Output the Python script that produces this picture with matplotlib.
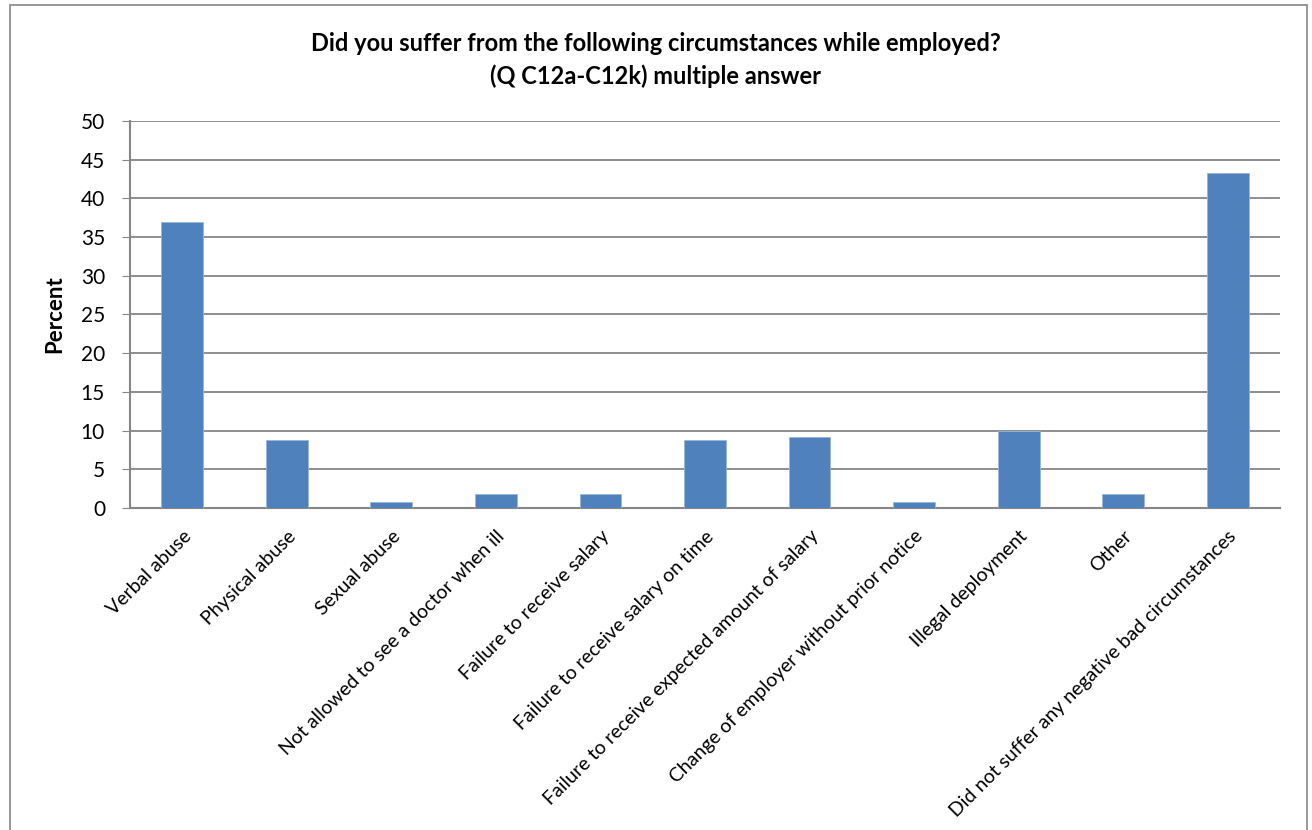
import matplotlib.pyplot as plt
import matplotlib.patches as patches

categories = ["Verbal abuse", "Physical abuse", "Sexual abuse",
              "Not allowed to see a doctor when ill", "Failure to receive salary",
              "Failure to receive salary on time", "Failure to receive expected amount of salary",
              "Change of employer without prior notice", "Illegal deployment", "Other",
              "Did not suffer any negative bad circumstances"]
percent = [37.0, 8.8, 0.8, 1.8, 1.8, 8.8, 9.2, 0.8, 10.0, 1.8, 43.3]
yticks = [0, 5, 10, 15, 20, 25, 30, 35, 40, 45, 50]

plt.rcParams['font.family'] = ['Lato', 'DejaVu Sans']

fig = plt.figure(figsize=(13.12, 8.3), dpi=100)
ax = fig.add_axes([130/1312, 1-508/830, (1280-130)/1312, (508-121)/830])

# chart area border
fig.patches.append(patches.Rectangle((10/1312, -0.01), (1307-10)/1312, 1-5/830+0.01,
                                     transform=fig.transFigure, fill=False,
                                     edgecolor="#868686", linewidth=1.2))

x = range(len(categories))
ax.bar(x, percent, width=0.4, color="#4F81BD", edgecolor="#9BB5DA", linewidth=0.6, zorder=3)

ax.set_xlim(-0.5, len(categories)-0.5)
ax.set_ylim(0, 50)
ax.set_yticks(yticks)
ax.tick_params(axis='y', labelsize=15, length=6, color="#868686", pad=12)
ax.yaxis.grid(True, color="#868686", linewidth=1.3, zorder=0)
ax.set_axisbelow(True)

ax.set_xticks(list(x))
ax.set_xticklabels(categories, rotation=45, ha="right", rotation_mode="anchor", fontsize=14)
ax.tick_params(axis='x', length=0, pad=14)

for s in ["top", "right"]:
    ax.spines[s].set_visible(False)
for s in ["left", "bottom"]:
    ax.spines[s].set_color("#868686")
    ax.spines[s].set_linewidth(1.5)

ax.set_ylabel("Percent", fontsize=16, fontweight="bold", labelpad=11)

fig.text(0.5, 1-51/830, "Did you suffer from the following circumstances while employed?",
         ha="center", va="baseline", fontsize=17, fontweight="bold")
fig.text(0.5, 1-84/830, "(Q C12a-C12k) multiple answer",
         ha="center", va="baseline", fontsize=17, fontweight="bold")

fig.savefig("out.png", dpi=100)
